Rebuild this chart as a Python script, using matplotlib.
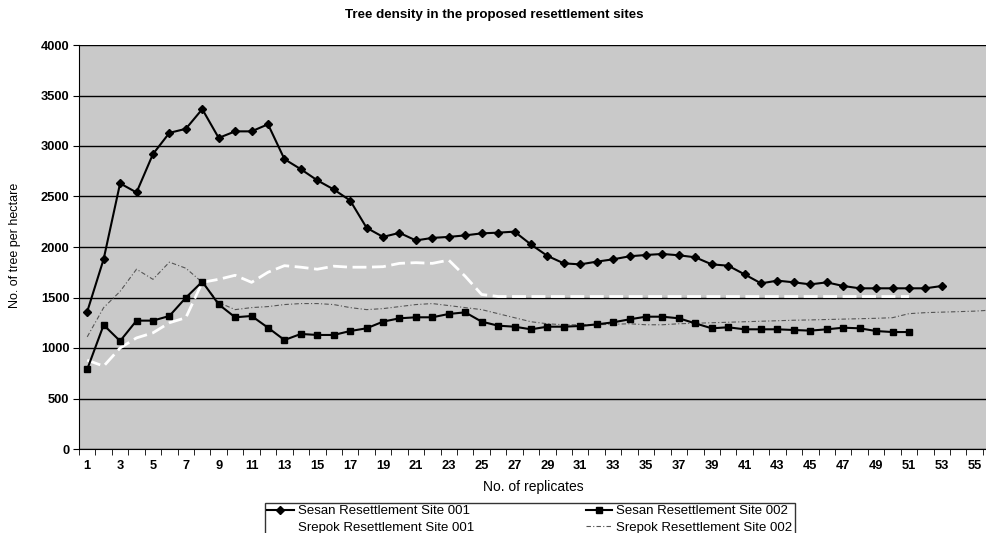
import matplotlib
matplotlib.use("Agg")
import matplotlib.pyplot as plt
import numpy as np

plt.rcParams['font.family'] = ['Liberation Sans', 'DejaVu Sans']

title = "Tree density in the proposed resettlement sites"
x_label = "No. of replicates"
y_label = "No. of tree per hectare"

series_names = ["Sesan Resettlement Site 001", "Sesan Resettlement Site 002",
                "Srepok Resettlement Site 001", "Srepok Resettlement Site 002"]

sesan_001 = [1360, 1880, 2630, 2540, 2920, 3130, 3170, 3365, 3080, 3145,
             3145, 3215, 2870, 2770, 2660, 2570, 2460, 2190, 2100, 2140,
             2065, 2090, 2100, 2115, 2135, 2142, 2152, 2025, 1912, 1838,
             1828, 1855, 1878, 1908, 1921, 1931, 1918, 1898, 1828, 1815,
             1729, 1640, 1667, 1650, 1630, 1650, 1614, 1591, 1591, 1591,
             1591, 1591, 1614]

sesan_002 = [789, 1228, 1069, 1271, 1271, 1317, 1498, 1657, 1432, 1304,
             1317, 1201, 1079, 1139, 1129, 1129, 1168, 1195, 1261, 1294,
             1304, 1304, 1337, 1353, 1261, 1221, 1211, 1185, 1211, 1211,
             1218, 1234, 1254, 1284, 1310, 1310, 1294, 1244, 1195, 1205,
             1185, 1185, 1185, 1178, 1172, 1185, 1201, 1195, 1168, 1158,
             1158]

srepok_001 = [880, 820, 1000, 1100, 1150, 1250, 1300, 1650, 1680, 1720,
              1650, 1750, 1815, 1800, 1780, 1810, 1800, 1800, 1805, 1838,
              1845, 1838, 1870, 1710, 1530, 1510, 1510, 1510, 1510, 1510,
              1510, 1510, 1510, 1510, 1510, 1510, 1510, 1510, 1510, 1510,
              1510, 1510, 1510, 1510, 1510, 1510, 1510, 1510, 1510, 1510,
              1510]

srepok_002 = [1110, 1400, 1560, 1780, 1680, 1850, 1790, 1650, 1450, 1380,
              1400, 1410, 1430, 1440, 1440, 1430, 1400, 1380, 1390, 1410,
              1430, 1440, 1420, 1400, 1380, 1340, 1300, 1260, 1240, 1230,
              1230, 1230, 1235, 1240, 1230, 1230, 1240, 1245, 1250, 1255,
              1260, 1265, 1270, 1275, 1278, 1282, 1286, 1290, 1294, 1300,
              1340, 1350, 1355, 1360, 1365, 1375]

x_ticklabels = [str(i) for i in range(1, 56, 2)]
y_ticks = list(range(0, 4001, 500))

fig = plt.figure(figsize=(9.87, 5.33), dpi=100)
fig.patch.set_facecolor('white')
ax = fig.add_axes([79/987, 1-449/533, 1-79/987, (449-45)/533])
ax.set_facecolor('#c9c9c9')

def xs(vals):
    return np.arange(1, len(vals) + 1)

ax.plot(xs(srepok_002), srepok_002, color='#555555', lw=0.8, ls=(0, (4, 2, 1, 2)),
        label=series_names[3], zorder=3)
ax.plot(xs(srepok_001), srepok_001, color='white', lw=2.0, ls=(0, (5, 2)),
        label=series_names[2], zorder=3)
ax.plot(xs(sesan_002), sesan_002, color='black', lw=1.5, marker='s', ms=5,
        label=series_names[1], zorder=4)
ax.plot(xs(sesan_001), sesan_001, color='black', lw=1.5, marker='D', ms=4,
        label=series_names[0], zorder=4)

ax.set_xlim(0.5, 55.75)
ax.set_ylim(0, 4000)
ax.set_yticks(y_ticks)
ax.set_yticklabels([str(v) for v in y_ticks], fontsize=9.3, fontweight='bold')
ax.set_xticks(list(range(1, 56, 2)))
ax.set_xticklabels(x_ticklabels, fontsize=9.3, fontweight='bold')
ax.set_xticks(np.arange(0.5, 56, 1.0), minor=True)
ax.tick_params(axis='x', which='major', length=0, pad=8)
ax.tick_params(axis='x', which='minor', length=4, direction='out', color='black')
ax.tick_params(axis='y', length=4, direction='out', color='black', pad=3)
ax.grid(axis='y', color='black', lw=1.0)
ax.set_axisbelow(True)
for s in ['top', 'right']:
    ax.spines[s].set_visible(False)
ax.spines['left'].set_color('black')
ax.spines['bottom'].set_color('black')

fig.text(494/987, 1-15/533, title, ha='center', va='center', fontsize=9.6, fontweight='bold')
fig.text(533/987, 1-487/533, x_label, ha='center', va='center', fontsize=10)
fig.text(15/987, 1-245/533, y_label, ha='center', va='center', fontsize=9, rotation=90)

handles, labels = ax.get_legend_handles_labels()
order = [3, 1, 2, 0]
leg = fig.legend([handles[i] for i in order], [labels[i] for i in order],
                 loc='upper left', bbox_to_anchor=(258/987, 1-496/533), ncol=2,
                 fontsize=9.5, frameon=True, fancybox=False, edgecolor='black',
                 facecolor='white', handlelength=2.0, columnspacing=8.5,
                 borderpad=0.2, labelspacing=0.3, handletextpad=0.3)
leg.get_frame().set_linewidth(1.0)

fig.savefig('out.png', dpi=100, facecolor=fig.get_facecolor())
